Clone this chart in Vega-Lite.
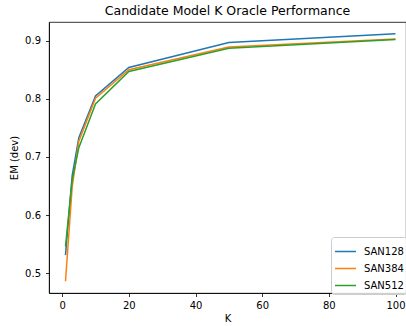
{
  "$schema": "https://vega.github.io/schema/vega-lite/v6.json",
  "autosize": {"type": "none"},
  "width": 357,
  "height": 271,
  "padding": {"left": 49, "top": 22, "right": 0, "bottom": 33},
  "background": "white",
  "title": {"text": "Candidate Model K Oracle Performance", "fontSize": 12.5, "font": "DejaVu Sans", "fontWeight": "normal", "color": "#000", "anchor": "middle", "offset": 5},
  "data": {"values": [
    {"K": 1, "model": "SAN128", "em": 0.531},
    {"K": 3, "model": "SAN128", "em": 0.668},
    {"K": 5, "model": "SAN128", "em": 0.733},
    {"K": 10, "model": "SAN128", "em": 0.805},
    {"K": 20, "model": "SAN128", "em": 0.854},
    {"K": 50, "model": "SAN128", "em": 0.897},
    {"K": 100, "model": "SAN128", "em": 0.912},
    {"K": 1, "model": "SAN384", "em": 0.486},
    {"K": 3, "model": "SAN384", "em": 0.648},
    {"K": 5, "model": "SAN384", "em": 0.727},
    {"K": 10, "model": "SAN384", "em": 0.801},
    {"K": 20, "model": "SAN384", "em": 0.850},
    {"K": 50, "model": "SAN384", "em": 0.889},
    {"K": 100, "model": "SAN384", "em": 0.903},
    {"K": 1, "model": "SAN512", "em": 0.546},
    {"K": 3, "model": "SAN512", "em": 0.660},
    {"K": 5, "model": "SAN512", "em": 0.716},
    {"K": 10, "model": "SAN512", "em": 0.791},
    {"K": 20, "model": "SAN512", "em": 0.847},
    {"K": 50, "model": "SAN512", "em": 0.887},
    {"K": 100, "model": "SAN512", "em": 0.902}
  ]},
  "mark": {"type": "line", "strokeWidth": 1.5, "clip": true},
  "encoding": {
    "x": {"field": "K", "type": "quantitative",
      "scale": {"domain": [-3.95, 103.15], "nice": false, "zero": false},
      "axis": {"values": [0, 20, 40, 60, 80, 100], "title": "K", "grid": false, "tickSize": 3.5, "labelPadding": 3.5, "titlePadding": 3, "labelFlush": false}},
    "y": {"field": "em", "type": "quantitative",
      "scale": {"domain": [0.4658, 0.9322], "nice": false, "zero": false},
      "axis": {"values": [0.5, 0.6, 0.7, 0.8, 0.9], "format": ".1f", "title": "EM (dev)", "grid": false, "tickSize": 3.5, "labelPadding": 5, "titlePadding": 5, "labelFlush": false}},
    "color": {"field": "model", "type": "nominal",
      "scale": {"domain": ["SAN128", "SAN384", "SAN512"], "range": ["#1f77b4", "#ff7f0e", "#2ca02c"]},
      "legend": {"title": null, "orient": "none", "legendX": 282, "legendY": 215, "symbolType": "stroke", "symbolSize": 441, "symbolStrokeWidth": 1.5, "labelFontSize": 10, "labelFont": "DejaVu Sans", "labelColor": "#000", "labelOffset": 7, "rowPadding": -1, "padding": 3, "strokeColor": "#cccccc", "fillColor": "rgba(255,255,255,0.8)", "cornerRadius": 3}}
  },
  "config": {
    "font": "DejaVu Sans",
    "view": {"stroke": "#000", "strokeWidth": 0.8},
    "axis": {"domainColor": "#000", "domainWidth": 0.8, "tickColor": "#000", "tickWidth": 0.8, "labelFont": "DejaVu Sans", "labelFontSize": 10, "labelColor": "#000", "titleFont": "DejaVu Sans", "titleFontSize": 10, "titleFontWeight": "normal", "titleColor": "#000"}
  }
}
